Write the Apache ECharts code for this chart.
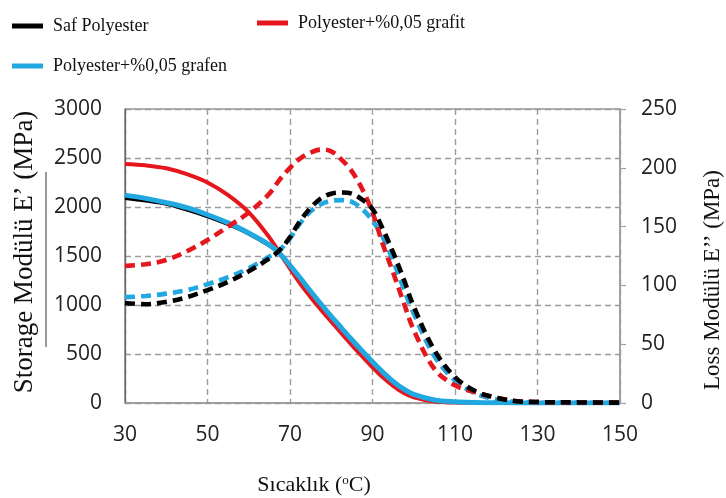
<!DOCTYPE html>
<html>
<head>
<meta charset="utf-8">
<script src="https://cdn.jsdelivr.net/npm/echarts@6/dist/echarts.min.js"></script>
<style>
  html, body { margin: 0; padding: 0; background: #fff; }
  #chart { width: 726px; height: 498px; }
</style>
</head>
<body>
<div id="chart"></div>
<script>
// Temperature (°C) at which each modulus was sampled
const temps = [30, 35, 40, 45, 50, 55, 60, 65, 67.5, 70, 72.5, 75, 77.5, 80, 82.5, 85, 87.5, 90, 92.5, 95, 97.5, 100, 105, 110, 115, 120, 125, 130, 140, 150];

// Storage modulus E' (MPa), left axis
const safStorage    = [2086, 2060, 2028, 1969, 1900, 1820, 1724, 1603, 1520, 1400, 1270, 1135, 1005, 878, 758, 638, 522, 412, 308, 212, 137, 83, 28, 10, 4, 2, 1, 0, 0, 0];
const grafitStorage = [2440, 2425, 2395, 2335, 2250, 2120, 1945, 1690, 1530, 1370, 1215, 1080, 952, 830, 710, 590, 475, 365, 262, 175, 105, 58, 14, 4, 1, 0, 0, 0, 0, 0];
const grafenStorage = [2121, 2088, 2045, 1993, 1921, 1838, 1734, 1614, 1525, 1405, 1275, 1140, 1010, 885, 765, 645, 530, 420, 315, 220, 143, 88, 31, 12, 5, 2, 1, 0, 0, 0];

// Loss modulus E'' (MPa), right axis
const safLoss    = [85, 84, 86, 90, 96, 103, 112, 123, 130, 141, 155, 166, 174, 178, 179, 178, 173, 165, 148, 128, 106, 82, 45, 22, 10, 4.5, 1.5, 0.8, 0.5, 0.3];
const grafitLoss = [116.5, 118, 121.6, 129, 138.6, 150, 162, 178, 190, 200, 208, 213, 215.5, 214, 207, 197, 182, 162, 135, 111, 86, 62, 29, 15, 9, 4.5, 1.5, 0.8, 0.4, 0.3];
const grafenLoss = [90, 91, 93, 96, 101, 107, 114.5, 124.5, 130, 140, 153, 163, 169, 172, 172.5, 171, 165, 155, 141, 121, 98, 76, 40, 19, 8, 3, 1, 0.5, 0.3, 0.2];

// Axis ticks
const xTicks = { min: 30, max: 150, interval: 20 };
const storageTicks = { min: 0, max: 3000, interval: 500 };
const lossTicks = { min: 0, max: 250, interval: 50 };

const names = {
  saf: 'Saf Polyester',
  grafit: 'Polyester+%0,05 grafit',
  grafen: 'Polyester+%0,05 grafen'
};
const colors = { saf: '#000000', grafit: '#e5161d', grafen: '#22a8e0' };

const pairs = vals => temps.map((t, i) => [t, vals[i]]);

const tickFont = { fontFamily: '"Open Sans"', fontSize: 21, color: '#222', formatter: v => String(v) };
const serif = '"Liberation Serif", "Times New Roman", serif';
const gridDash = { color: '#9c9c9c', width: 1.4, type: [6, 4] };

function solid(key, vals, width) {
  return {
    name: names[key], type: 'line', yAxisIndex: 0, data: pairs(vals),
    smooth: 0.35, showSymbol: false, color: colors[key],
    lineStyle: { width: width, color: colors[key] }
  };
}
function dashed(key, vals) {
  return {
    name: names[key] + ' E\u2019\u2019', type: 'line', yAxisIndex: 1, data: pairs(vals),
    smooth: 0.35, showSymbol: false, color: colors[key],
    lineStyle: { width: 4.6, color: colors[key], type: [10, 6] }
  };
}

function legendAt(name, left, top) {
  return {
    data: [name], left: left, top: top, padding: 0,
    icon: 'rect', itemWidth: 31, itemHeight: 5, selectedMode: false,
    textStyle: { fontFamily: serif, fontSize: 18, color: '#111', padding: [0, 0, 0, 5] }
  };
}

const chart = echarts.init(document.getElementById('chart'), null, { renderer: 'canvas' });
chart.setOption({
  animation: false,
  backgroundColor: '#ffffff',
  grid: { left: 125, right: 106, top: 109, bottom: 95, show: true, borderColor: '#666', borderWidth: 1.2 },
  legend: [
    legendAt(names.saf, 12, 17),
    legendAt(names.grafit, 257, 14),
    legendAt(names.grafen, 12, 57)
  ],
  xAxis: {
    type: 'value', min: xTicks.min, max: xTicks.max, interval: xTicks.interval,
    axisLine: { show: true, lineStyle: { color: '#999', width: 1.5 } },
    axisTick: { show: false },
    axisLabel: Object.assign({ margin: 22 }, tickFont),
    splitLine: { show: true, lineStyle: gridDash }
  },
  yAxis: [
    {
      type: 'value', position: 'left', min: storageTicks.min, max: storageTicks.max, interval: storageTicks.interval,
      axisLine: { show: true, lineStyle: { color: '#666', width: 1.2 } },
      axisTick: { show: false },
      axisLabel: Object.assign({ margin: 23 }, tickFont),
      splitLine: { show: true, lineStyle: gridDash }
    },
    {
      type: 'value', position: 'right', min: lossTicks.min, max: lossTicks.max, interval: lossTicks.interval,
      axisLine: { show: true, lineStyle: { color: '#a0a0a0', width: 1.5 } },
      axisTick: { show: true, inside: false, length: 6, lineStyle: { color: '#a0a0a0', width: 1.2 } },
      axisLabel: Object.assign({ margin: 21 }, tickFont),
      splitLine: { show: false }
    }
  ],
  series: [
    solid('saf', safStorage, 3),
    solid('grafit', grafitStorage, 4),
    solid('grafen', grafenStorage, 5),
    dashed('grafen', grafenLoss),
    dashed('grafit', grafitLoss),
    dashed('saf', safLoss)
  ],
  graphic: [
    {
      type: 'text', x: 25, y: 252, rotation: Math.PI / 2,
      style: { text: 'Storage Mod\u00fcl\u00fc E\u2019 (MPa)', font: '27px ' + serif, fill: '#111', align: 'center', verticalAlign: 'middle' }
    },
    {
      type: 'line', shape: { x1: 46, y1: 172, x2: 46, y2: 347 },
      style: { stroke: '#555', lineWidth: 1.2 }
    },
    {
      type: 'text', x: 713, y: 280, rotation: Math.PI / 2,
      style: { text: 'Loss Mod\u00fcl\u00fc E\u2019\u2019 (MPa)', font: '23px ' + serif, fill: '#111', align: 'center', verticalAlign: 'middle' }
    },
    {
      type: 'text', x: 314, y: 485,
      style: {
        text: 'S\u0131cakl\u0131k ({s|o}C)', font: '22px ' + serif, fill: '#111', align: 'center', verticalAlign: 'middle',
        rich: { s: { fontSize: 13, fontFamily: serif, verticalAlign: 'top', padding: [0, 0, 8, 0] } }
      }
    }
  ]
});
</script>
</body>
</html>
